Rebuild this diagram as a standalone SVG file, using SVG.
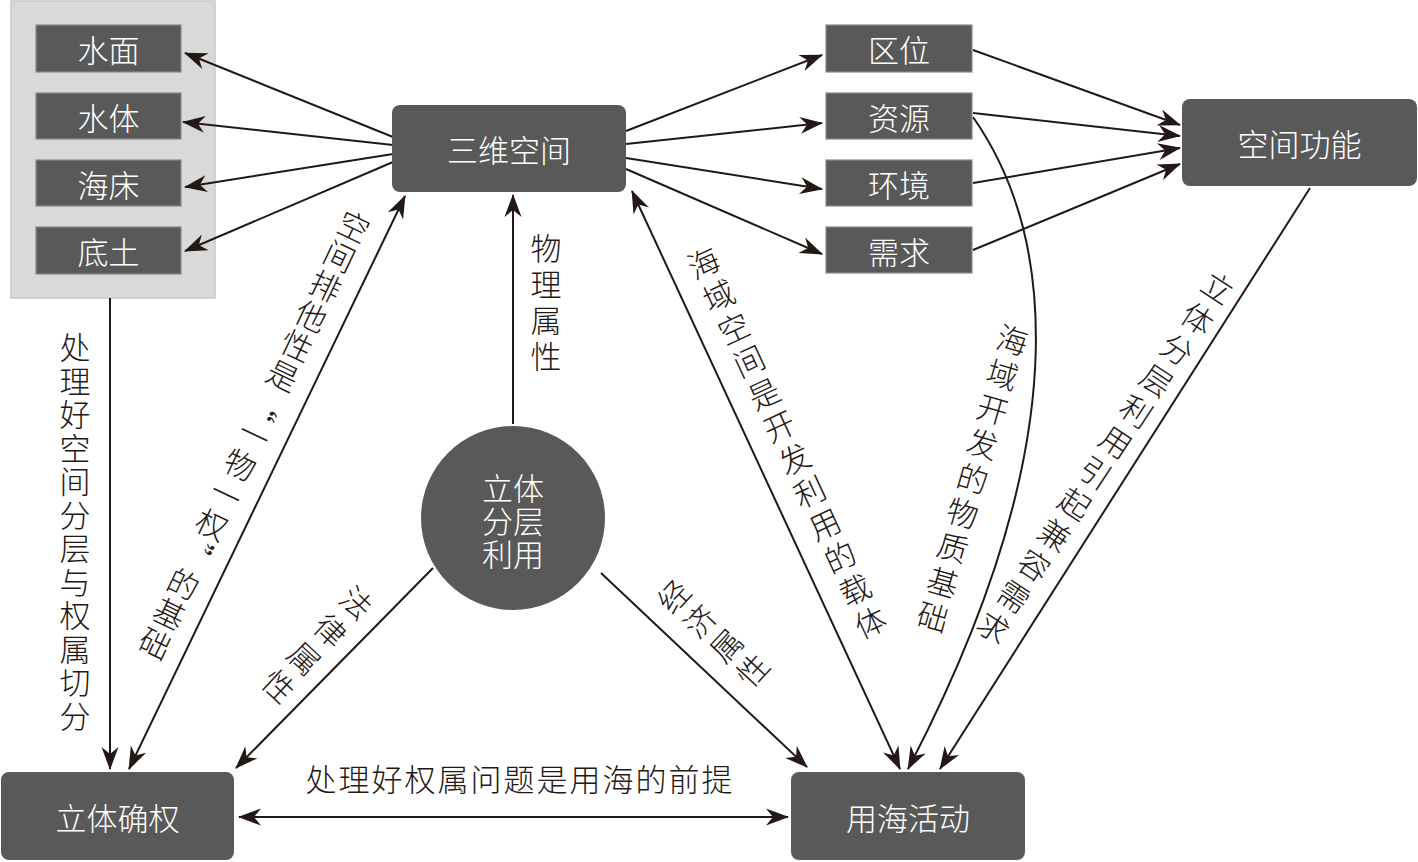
<svg xmlns="http://www.w3.org/2000/svg" width="1418" height="862" viewBox="0 0 1418 862">
<style>
.bg{fill:#d9d9d9;stroke:#c8c8c8;stroke-width:1.5}
.box{fill:#595959;stroke:#8a8a8a;stroke-width:1.2}
.rbox{fill:#595959}
.nt{font-family:"Noto Sans CJK SC","Noto Sans",sans-serif;font-weight:300;font-size:31px;fill:#ffffff;text-anchor:middle;dominant-baseline:central}
.lt{font-family:"Noto Sans CJK SC","Noto Sans",sans-serif;font-weight:300;font-size:31px;fill:#231815}
.v{writing-mode:vertical-rl;text-anchor:middle}
.ln{fill:none;stroke:#231815;stroke-width:2}
</style>
<defs>
<marker id="ah" markerUnits="userSpaceOnUse" markerWidth="26" markerHeight="20" viewBox="-24 -10 26 20" refX="0" refY="0" orient="auto-start-reverse">
<path d="M1,0 L-22,-8.5 L-15,0 L-22,8.5 Z" fill="#231815"/>
</marker>
</defs>

<rect class="bg" x="11" y="1" width="204" height="297"/>

<g id="connectors">
<line class="ln" x1="393" y1="137" x2="185" y2="53" marker-end="url(#ah)"/>
<line class="ln" x1="393" y1="145" x2="183" y2="122" marker-end="url(#ah)"/>
<line class="ln" x1="393" y1="154" x2="185" y2="187" marker-end="url(#ah)"/>
<line class="ln" x1="393" y1="162" x2="185" y2="251" marker-end="url(#ah)"/>
<line class="ln" x1="626" y1="131" x2="822" y2="55" marker-end="url(#ah)"/>
<line class="ln" x1="626" y1="144" x2="822" y2="123" marker-end="url(#ah)"/>
<line class="ln" x1="626" y1="158" x2="822" y2="189" marker-end="url(#ah)"/>
<line class="ln" x1="626" y1="169" x2="822" y2="254" marker-end="url(#ah)"/>
<line class="ln" x1="973" y1="50" x2="1180" y2="125" marker-end="url(#ah)"/>
<line class="ln" x1="973" y1="113" x2="1180" y2="136" marker-end="url(#ah)"/>
<line class="ln" x1="973" y1="183" x2="1180" y2="148" marker-end="url(#ah)"/>
<line class="ln" x1="973" y1="250" x2="1180" y2="164" marker-end="url(#ah)"/>
<path class="ln" d="M973,117 C1045,220 1090,420 908,769" marker-end="url(#ah)"/>
<line class="ln" x1="1310" y1="188" x2="940" y2="769" marker-end="url(#ah)"/>
<line class="ln" x1="632" y1="191" x2="900" y2="769" marker-start="url(#ah)" marker-end="url(#ah)"/>
<line class="ln" x1="513" y1="424" x2="513" y2="195" marker-end="url(#ah)"/>
<line class="ln" x1="405" y1="196" x2="129" y2="769" marker-start="url(#ah)" marker-end="url(#ah)"/>
<line class="ln" x1="110" y1="298" x2="110" y2="769" marker-end="url(#ah)"/>
<line class="ln" x1="433" y1="568" x2="236" y2="768" marker-end="url(#ah)"/>
<line class="ln" x1="601" y1="573" x2="807" y2="767" marker-end="url(#ah)"/>
<line class="ln" x1="239" y1="817" x2="788" y2="817" marker-start="url(#ah)" marker-end="url(#ah)"/>
</g>

<g id="edge-labels">
<text class="lt v" x="75" y="533" style="letter-spacing:2.5px">处理好空间分层与权属切分</text>
<text class="lt v" x="546" y="305" style="letter-spacing:5px">物理属性</text>
<text class="lt v" transform="translate(254,436) rotate(25.5)" x="0" y="0" style="letter-spacing:2px;font-feature-settings:'vert' 0">空间排他性是“一物一权”的基础</text>
<text class="lt v" transform="translate(788,445) rotate(-24.9)" x="0" y="0" style="letter-spacing:5px">海域空间是开发利用的载体</text>
<text class="lt v" transform="translate(972,481) rotate(16)" x="0" y="0" style="letter-spacing:5px">海域开发的物质基础</text>
<text class="lt v" transform="translate(1104,460) rotate(33.5)" x="0" y="0" style="letter-spacing:6px">立体分层利用引起兼容需求</text>
<text class="lt v" transform="translate(315,647) rotate(43)" x="0" y="0" style="letter-spacing:7px">法律属性</text>
<text class="lt v" transform="translate(715,635) rotate(-47)" x="0" y="0" style="letter-spacing:5px">经济属性</text>
<text class="lt" x="520" y="791" text-anchor="middle" style="letter-spacing:2px">处理好权属问题是用海的前提</text>
</g>

<g id="n-shuimian"><rect class="box" x="36" y="25" width="145" height="47"/><text class="nt" x="108.5" y="48.5">水面</text></g>
<g id="n-shuiti"><rect class="box" x="36" y="93" width="145" height="46"/><text class="nt" x="108.5" y="116">水体</text></g>
<g id="n-haichuang"><rect class="box" x="36" y="160" width="145" height="46"/><text class="nt" x="108.5" y="183">海床</text></g>
<g id="n-ditu"><rect class="box" x="36" y="227" width="145" height="47"/><text class="nt" x="108.5" y="250.5">底土</text></g>

<g id="n-sanwei"><rect class="rbox" x="392" y="105" width="234" height="87" rx="8"/><text class="nt" x="509" y="148.5">三维空间</text></g>

<g id="n-quwei"><rect class="box" x="826" y="25" width="146" height="47"/><text class="nt" x="899" y="48.5">区位</text></g>
<g id="n-ziyuan"><rect class="box" x="826" y="93" width="146" height="46"/><text class="nt" x="899" y="116">资源</text></g>
<g id="n-huanjing"><rect class="box" x="826" y="160" width="146" height="46"/><text class="nt" x="899" y="183">环境</text></g>
<g id="n-xuqiu"><rect class="box" x="826" y="227" width="146" height="46"/><text class="nt" x="899" y="250">需求</text></g>

<g id="n-gongneng"><rect class="rbox" x="1182" y="99" width="235" height="87" rx="8"/><text class="nt" x="1299.5" y="142.5">空间功能</text></g>

<g id="n-center"><circle cx="513" cy="518" r="92" fill="#595959"/>
<text class="nt"><tspan x="513" y="486">立体</tspan><tspan x="513" y="519">分层</tspan><tspan x="513" y="552">利用</tspan></text></g>

<g id="n-queren"><rect class="rbox" x="1" y="772" width="233" height="88" rx="8"/><text class="nt" x="117.5" y="816">立体确权</text></g>
<g id="n-yonghai"><rect class="rbox" x="791" y="772" width="234" height="88" rx="8"/><text class="nt" x="908" y="816">用海活动</text></g>
</svg>
